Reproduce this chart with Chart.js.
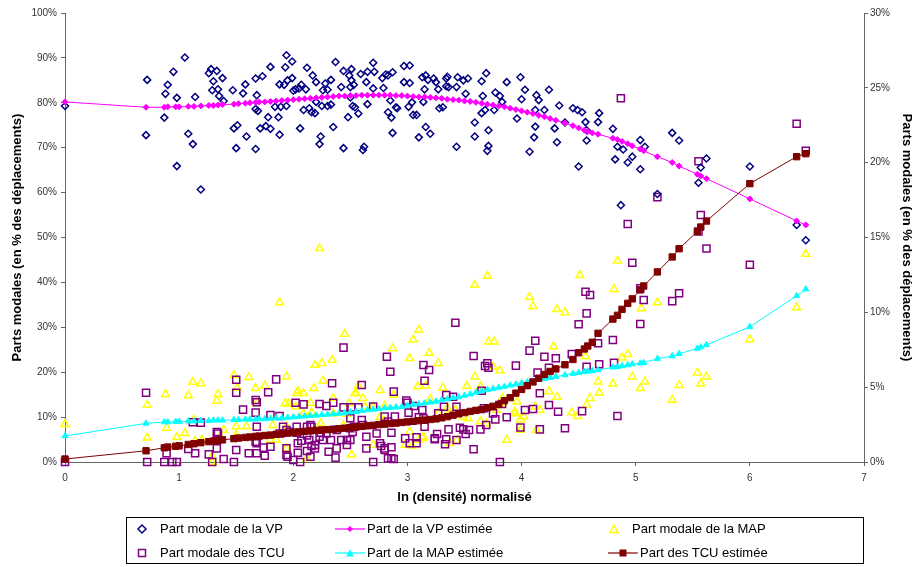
<!DOCTYPE html>
<html>
<head>
<meta charset="utf-8">
<script src="https://cdn.jsdelivr.net/npm/chart.js@4.4.1/dist/chart.umd.min.js"></script>
<style>
body{margin:0;background:#fff;font-family:"Liberation Sans",Arial,sans-serif}
#wrap{position:relative;width:914px;height:567px}
#legend{position:absolute;left:126px;top:517px;width:736px;height:45px;border:1px solid #000;font-size:13px;color:#000}
.item{position:absolute;white-space:nowrap;line-height:14px}
.item svg{position:absolute;top:1px}
</style>
</head>
<body>
<div id="wrap">
<canvas id="chart"></canvas>
<div id="legend"></div>
</div>
<script>

/* DATA */

// observed shares per commune: [ln(density) normalised, share in %]
const vpObs=[[0,79.3],[0.72,85.1],[0.71,72.8],[0.87,76.7],[0.88,82],[0.9,84],[0.95,86.9],[0.98,81.1],[0.98,65.9],[1.05,90.1],[1.08,73.1],[1.12,70.8],[1.14,81.3],[1.19,60.7],[1.26,86.6],[1.28,87.5],[1.33,87.1],[1.3,84.8],[1.29,82.8],[1.34,83],[1.35,81.5],[1.38,85.5],[1.39,80.4],[1.47,82.8],[1.48,74.3],[1.51,75],[1.5,69.9],[1.56,82.1],[1.58,84.1],[1.59,72.5],[1.67,85.4],[1.67,69.7],[1.67,78.6],[1.69,78.2],[1.68,81.7],[1.71,74.3],[1.73,85.9],[1.76,74.8],[1.78,76.8],[1.8,88],[1.8,74.2],[1.84,79.1],[1.87,76.8],[1.88,72.9],[1.88,84.1],[1.89,79.1],[1.93,87.9],[1.94,90.6],[1.95,85],[1.94,79.3],[1.92,84],[1.99,89.2],[1.99,85.5],[2,82.7],[2.02,83],[2.05,83.2],[2.06,74.3],[2.07,84],[2.09,78.4],[2.12,87.8],[2.11,83],[2.14,78.8],[2.17,86.1],[2.16,77.9],[2.19,77.7],[2.2,84.6],[2.2,80.2],[2.23,70.8],[2.24,72.5],[2.25,79.3],[2.26,82.8],[2.28,84.3],[2.3,82.9],[2.3,79.3],[2.33,79.6],[2.33,85.1],[2.35,74.6],[2.37,89.1],[2.42,83.5],[2.44,69.9],[2.44,87.1],[2.49,86.1],[2.48,76.8],[2.5,83.5],[2.5,81.2],[2.51,87.5],[2.51,85],[2.52,79.3],[2.54,79],[2.53,84],[2.57,77.6],[2.59,86.4],[2.61,69.5],[2.62,70.2],[2.64,84.6],[2.65,86.9],[2.65,79.7],[2.7,88.9],[2.71,86.9],[2.7,83.2],[2.78,85.5],[2.79,83.3],[2.81,86.3],[2.83,86.1],[2.83,77.9],[2.86,76.7],[2.87,86.8],[2.87,73.3],[2.85,80.5],[2.9,79],[2.91,78.8],[2.97,88.2],[2.97,84.6],[3.02,88.3],[3.02,84.4],[3.01,79.1],[3.04,80.1],[3.05,77.3],[3.08,77.3],[3.1,72.3],[3.13,85.7],[3.16,86.1],[3.15,83],[3.14,80.2],[3.16,74.6],[3.2,73.1],[3.18,85.1],[3.23,85.4],[3.25,84.6],[3.27,83],[3.28,78.8],[3.31,79],[3.34,85.4],[3.34,83.7],[3.35,85.8],[3.36,83.5],[3.43,70.2],[3.44,85.7],[3.43,83.5],[3.49,85],[3.53,85.4],[3.51,82],[3.59,75.6],[3.59,72.5],[3.65,84.8],[3.66,81.5],[3.65,77.7],[3.69,86.6],[3.68,78.4],[3.71,73.9],[3.71,70.4],[3.7,69.3],[3.77,82.3],[3.81,81.5],[3.76,78.4],[3.83,80.2],[3.87,84.6],[3.96,76.5],[3.99,85.7],[4,80.8],[4.03,82.9],[4.07,69.1],[4.11,72.3],[4.12,74.7],[4.13,81.7],[4.15,80.6],[4.12,78.4],[4.2,78.4],[4.24,82.9],[4.29,74.3],[4.31,71.2],[4.33,79.4],[4.38,75.6],[4.45,78.8],[4.49,78.4],[4.5,65.8],[4.53,77.9],[4.56,75.7],[4.57,73.9],[4.57,71.6],[4.67,75.7],[4.68,77.7],[4.8,74.2],[4.82,67.4],[4.84,70.2],[4.87,57.2],[4.89,69.6],[4.93,66.7],[4.97,68],[5.04,71.7],[5.04,65.2],[5.08,70.2],[5.19,59.7],[5.32,73.3],[5.38,71.6],[5.55,62.2],[5.57,65.6],[5.62,67.6],[6,65.8],[6.41,52.8],[6.49,49.4]]

const mapObs=[[0,8.4],[0.72,12.7],[0.72,5.4],[0.88,15.1],[0.89,7.6],[0.98,5.5],[1.05,6.4],[1.08,14.8],[1.12,17.8],[1.19,17.5],[1.13,9.4],[1.29,0],[1.33,13.6],[1.34,15.1],[1.48,19.3],[1.51,16.5],[1.5,7.9],[1.61,18.9],[1.67,16.4],[1.68,13.1],[1.75,17],[1.8,4.9],[1.88,35.5],[1.93,13.1],[1.94,19],[1.94,3],[2.03,15.3],[2.09,15.3],[2.12,0.8],[2.18,16.4],[2.19,21.6],[2.23,47.6],[2.25,22],[2.26,18.1],[2.34,22.7],[2.35,14.2],[2.45,28.5],[2.49,13.1],[2.51,1.6],[2.54,15.3],[2.57,16.9],[2.61,14.2],[2.7,3.8],[2.76,16],[2.8,12.5],[2.87,25.3],[2.88,14.9],[3.02,23.1],[3.05,27.2],[3.1,29.4],[3.09,16.8],[3.02,6.7],[3.04,3.6],[3.14,5.6],[3.19,24.3],[3.27,22],[3.31,16.5],[3.35,10.8],[3.43,4.7],[3.37,4.2],[3.52,16.9],[3.59,19],[3.59,39.4],[3.64,16.8],[3.7,41.4],[3.71,26.8],[3.76,26.8],[3.75,21.2],[3.81,20.4],[3.83,14.2],[3.87,4.9],[3.94,11.2],[3.96,13.4],[3.99,7.1],[4.02,10.1],[4.07,36.7],[4.1,34.7],[4.12,12.3],[4.16,11.6],[4.24,15.7],[4.28,25.7],[4.31,34],[4.31,14.5],[4.38,33.3],[4.44,11],[4.49,10.2],[4.51,41.6],[4.56,23.5],[4.57,12.7],[4.6,14.2],[4.67,17.9],[4.68,15.4],[4.8,17.4],[4.81,38.5],[4.84,44.8],[4.88,23.2],[4.93,24],[4.97,19],[5.04,16.4],[5.05,34.2],[5.08,17.9],[5.19,35.5],[5.32,13.8],[5.38,17.1],[5.54,19.9],[5.57,17.4],[5.62,19],[6,27.3],[6.41,34.4],[6.49,46.3],[3.16,17],[3.1,4.9],[4.13,7.1],[3.99,9.4],[3.49,10.1],[3.53,9.7],[3.42,11.6],[3.13,5.3],[2.98,3.8],[3.64,9],[3.69,8.6],[3.94,10.8],[3.2,14],[3.27,10.8],[3.35,12],[3.78,11.6],[3.83,13.1],[1.14,4.7],[1.29,1.3],[1.39,7.1],[1.59,7.9],[1.82,8.2],[1.85,4.9],[1.96,12.9],[2.04,15.8],[2.55,15.3],[2.15,13.1],[2.02,12.3],[2.09,10.8],[2.16,11],[2.24,8.6],[1.94,7.9],[2.35,10.8],[2.44,8.2],[2.47,10.7],[2.76,10],[2.8,9],[1.5,6],[1.36,5.6],[1.2,4.9],[2.63,12.3],[2.7,12.3]]

// TCU shares are read on the right axis (0-30%)
const tcuObs=[[0,0],[0.71,4.63],[0.72,0],[0.87,0],[0.89,0.58],[0.94,0],[0.98,0],[1.08,0.87],[1.12,2.65],[1.14,0.58],[1.19,2.63],[1.26,0.51],[1.29,0],[1.33,2],[1.33,0.91],[1.34,1.9],[1.39,0.2],[1.48,0],[1.5,5.5],[1.5,0.8],[1.56,3.5],[1.61,0.58],[1.68,3.99],[1.67,3.3],[1.68,2.36],[1.68,1.25],[1.74,0.96],[1.75,0.42],[1.78,4.66],[1.8,3.14],[1.8,1.02],[1.85,5.52],[1.88,3.07],[1.94,0.91],[1.95,0.35],[1.97,2.02],[2.02,3.96],[2,0.13],[2.04,0.62],[2.06,0],[2.09,3.85],[2.07,1.42],[2.12,0.73],[2.15,2.47],[2.16,1.07],[2.19,0.91],[2.23,3.87],[2.23,1.69],[2.26,1.47],[2.29,3.74],[2.31,0.69],[2.34,5.26],[2.35,3.96],[2.37,0.29],[2.44,7.64],[2.44,3.65],[2.47,1.47],[2.5,2.25],[2.52,2],[2.6,5.14],[2.61,2.47],[2.64,0.91],[2.7,0],[2.7,3.7],[2.73,1.91],[2.77,1.07],[2.8,0.8],[2.82,7.03],[2.85,6.03],[2.86,0.24],[2.88,4.7],[2.86,0.98],[2.89,3.03],[2.99,4.1],[2.98,1.58],[3.01,3.3],[3.02,1.25],[3.08,1.65],[3.1,2.99],[3.14,6.48],[3.15,5.43],[3.19,6.15],[3.15,2.36],[3.24,1.58],[3.26,1.87],[3.32,3.69],[3.33,1.18],[3.34,4.48],[3.36,2.18],[3.42,9.3],[3.43,3.69],[3.46,2.29],[3.49,2.18],[3.51,1.87],[3.54,2.14],[3.58,7.08],[3.58,0.85],[3.64,2.18],[3.65,4.76],[3.67,3.59],[3.68,6.41],[3.7,6.6],[3.71,6.3],[3.69,2.47],[3.75,3.25],[3.77,2.85],[3.81,0],[3.83,3.87],[3.87,2.99],[3.95,6.44],[3.99,2.31],[4.03,3.47],[4.07,7.44],[4.12,8.1],[4.1,3.54],[4.14,5.97],[4.16,4.59],[4.16,2.18],[4.2,7.03],[4.24,6.3],[4.24,3.81],[4.3,6.93],[4.32,3.36],[4.38,2.25],[4.44,7.21],[4.5,9.2],[4.53,3.4],[4.56,11.38],[4.6,11.16],[4.57,9.93],[4.57,6.37],[4.67,7.93],[4.68,6.53],[4.8,8.15],[4.81,6.63],[4.84,3.07],[4.97,13.31],[5.04,11.6],[5.04,9.22],[5.07,10.82],[5.32,10.75],[5.38,11.27],[5.62,14.27],[6,13.18],[4.87,24.3],[5.55,20.1],[4.93,15.9],[5.19,17.7],[5.57,16.5],[5.55,15.4],[6.41,22.6],[6.49,20.8],[1.33,1.47],[1.5,4.63],[1.67,4.14],[1.67,1.36],[1.91,2.36],[1.68,0.58],[2.03,1.96],[2.04,1.25],[2.12,1.78],[2.14,1.47],[2.15,0.35],[2.24,1.96],[2.19,1.14],[2.29,1.91],[2.33,1.47],[2.38,0.91],[2.51,3.65],[2.57,3.65],[2.5,2.92],[2.6,2.8],[2.53,2.36],[2.5,1.47],[2.47,1.14],[2.64,1.69],[2.83,2.7],[2.03,2.36],[1.94,2.14],[1.88,1.91],[2.12,2.36],[2.16,2.36],[2.38,2.14],[2.42,1.47],[1.94,0.47],[3.34,1.52],[3.24,1.52],[3.27,3.25],[3.14,2.92],[3.13,3.47],[3,3.96],[3.06,3.74],[2.8,3.03],[2.86,1.96],[3.08,1.25],[2.76,1.25],[2.8,0.91],[2.83,0.24],[2.88,0.2],[3.43,1.47],[3.4,4.36]]

// estimated curves, one marker per commune
const estX=[0,0.71,0.87,0.9,0.97,1,1.08,1.13,1.19,1.26,1.3,1.34,1.38,1.48,1.52,1.58,1.62,1.67,1.7,1.75,1.8,1.85,1.9,1.95,2,2.05,2.1,2.15,2.2,2.25,2.3,2.35,2.4,2.45,2.5,2.55,2.6,2.65,2.7,2.75,2.8,2.85,2.9,2.95,3,3.05,3.1,3.15,3.2,3.25,3.3,3.35,3.4,3.45,3.5,3.55,3.6,3.65,3.7,3.75,3.8,3.85,3.9,3.95,4,4.05,4.1,4.15,4.2,4.25,4.3,4.38,4.45,4.5,4.55,4.58,4.62,4.67,4.8,4.84,4.88,4.93,4.97,5.04,5.07,5.19,5.32,5.38,5.54,5.57,5.62,6,6.41,6.49]

const vpEst=[80.2,79,79,79.1,79.1,79.1,79.2,79.2,79.3,79.4,79.4,79.5,79.6,79.7,79.8,79.9,80,80.1,80.2,80.2,80.3,80.4,80.5,80.6,80.7,80.8,80.9,81,81.1,81.2,81.3,81.4,81.5,81.5,81.6,81.6,81.7,81.7,81.7,81.7,81.7,81.7,81.6,81.6,81.5,81.4,81.3,81.3,81.2,81.1,81,80.8,80.7,80.6,80.4,80.3,80.1,79.9,79.7,79.5,79.3,79.1,78.8,78.5,78.2,77.9,77.6,77.2,76.9,76.5,76.1,75.5,74.9,74.4,73.9,73.6,73.3,73,72.1,71.8,71.4,70.9,70.4,69.7,69.3,68,66.7,65.9,64.1,63.7,63.1,58.6,53.7,52.8]

const mapEst=[5.8,8.6,8.9,8.9,9,9,9.1,9.1,9.2,9.2,9.3,9.3,9.3,9.4,9.4,9.5,9.5,9.5,9.6,9.6,9.7,9.8,9.8,9.9,10,10.1,10.2,10.3,10.4,10.5,10.6,10.7,10.8,10.9,11.1,11.2,11.4,11.6,11.7,11.8,12,12.1,12.2,12.3,12.6,12.8,12.9,13.1,13.3,13.5,13.8,14,14.3,14.5,14.8,15.1,15.5,15.8,16.1,16.3,16.6,16.8,17.1,17.3,17.6,17.8,18,18.3,18.5,18.8,19,19.4,19.7,19.9,20.1,20.2,20.3,20.5,21.1,21.2,21.4,21.6,21.8,22,22.1,23,23.6,24.1,25.3,25.6,26.1,30.1,37,38.5]

const tcuEst=[0.2,0.75,0.95,1,1.05,1.08,1.17,1.22,1.29,1.36,1.4,1.44,1.48,1.56,1.6,1.64,1.67,1.71,1.73,1.77,1.8,1.85,1.89,1.93,1.97,2.01,2.05,2.08,2.11,2.14,2.16,2.19,2.22,2.26,2.3,2.34,2.38,2.42,2.45,2.5,2.53,2.57,2.6,2.64,2.68,2.72,2.76,2.8,2.84,2.88,2.95,3.03,3.13,3.22,3.3,3.38,3.45,3.5,3.62,3.72,3.85,4.1,4.3,4.6,4.85,5.1,5.35,5.6,5.85,6.05,6.22,6.5,6.85,7.3,7.55,7.75,8,8.6,9.55,9.8,10.2,10.6,10.9,11.5,11.76,12.7,13.7,14.25,15.4,15.7,16.1,18.6,20.4,20.6]

const leftTicks=[0,10,20,30,40,50,60,70,80,90,100]
const rightTicks=[0,5,10,15,20,25,30]


/* CHART */

Chart.defaults.font.family='"Liberation Sans", Arial, sans-serif'
Chart.defaults.font.size=10
Chart.defaults.color='#333'

const pts=a=>a.map(p=>({x:p[0],y:p[1]}))
const est=a=>estX.map((x,i)=>({x:x,y:a[i]}))

const axisGrid={drawOnChartArea:false,drawTicks:true,tickLength:4,color:'#666',lineWidth:1}
const axisBorder={color:'#666',width:1}
const titleFont={size:13,weight:"bold"}

new Chart(document.getElementById("chart"),{

type:"scatter",

data:{
datasets:[

{
label:"Part modale de la VP",
data:pts(vpObs),
yAxisID:"y",
pointStyle:"rectRot",
pointRadius:3.5,
borderColor:"#000080",
backgroundColor:"rgba(0,0,0,0)",
borderWidth:1.5,
order:2,
clip:8
},

{
label:"Part de la VP estimée",
data:est(vpEst),
yAxisID:"y",
showLine:true,
pointStyle:"rectRot",
pointRadius:3,
borderColor:"#FF00FF",
backgroundColor:"#FF00FF",
pointBorderWidth:1,
borderWidth:1,
order:1,
clip:8
},

{
label:"Part modale de la MAP",
data:pts(mapObs),
yAxisID:"y",
pointStyle:"triangle",
pointRadius:4.5,
borderColor:"#FFFF00",
backgroundColor:"rgba(0,0,0,0)",
borderWidth:1.5,
order:4,
clip:8
},

{
label:"Part modale des TCU",
data:pts(tcuObs),
yAxisID:"y2",
pointStyle:"rect",
pointRadius:5,
borderColor:"#800080",
backgroundColor:"rgba(0,0,0,0)",
borderWidth:1.5,
order:3,
clip:8
},

{
label:"Part de la MAP estimée",
data:est(mapEst),
yAxisID:"y",
showLine:true,
pointStyle:"triangle",
pointRadius:3.5,
borderColor:"#00FFFF",
backgroundColor:"#00FFFF",
borderWidth:1,
order:1,
clip:8
},

{
label:"Part des TCU estimée",
data:est(tcuEst),
yAxisID:"y2",
showLine:true,
pointStyle:"rect",
pointRadius:4.5,
borderColor:"#800000",
backgroundColor:"#800000",
borderWidth:1,
order:0,
clip:8
}

]
},

options:{
responsive:true,
maintainAspectRatio:false,
animation:false,
layout:{padding:{top:13,bottom:55,left:0,right:0}},
plugins:{
legend:{display:false},
tooltip:{enabled:false}
},
scales:{
x:{
type:"linear",
min:0,max:7,
afterFit:s=>{s.height=50},
ticks:{stepSize:1,padding:6,color:"#333"},
grid:axisGrid,
border:axisBorder,
title:{display:true,text:"ln (densité) normalisé",color:"#000",font:titleFont,padding:{top:0,bottom:7}}
},
y:{
position:"left",
min:0,max:100,
afterFit:s=>{s.width=65},
afterBuildTicks:s=>{s.ticks=leftTicks.map(v=>({value:v}))},
ticks:{padding:4,color:"#333",callback:v=>v+"%"},
grid:axisGrid,
border:axisBorder,
title:{display:true,text:"Parts modales (en % des déplacements)",color:"#000",font:titleFont,padding:{top:10,bottom:0}}
},
y2:{
position:"right",
min:0,max:30,
afterFit:s=>{s.width=50},
afterBuildTicks:s=>{s.ticks=rightTicks.map(v=>({value:v}))},
ticks:{padding:2,color:"#333",callback:v=>v+"%"},
grid:axisGrid,
border:axisBorder,
title:{display:true,text:"Parts modales (en % des déplacements)",color:"#000",font:titleFont,padding:{top:0,bottom:0}}
}
}
}

})


/* LEGEND */

const legendItems=[
{text:"Part modale de la VP",col:0,row:0,mark:'<path d="M6 2 L10 6 L6 10 L2 6 Z" fill="none" stroke="#000080" stroke-width="1.5"/>'},
{text:"Part de la VP estimée",col:1,row:0,line:"#FF00FF",mark:'<path d="M15 3 L18 6 L15 9 L12 6 Z" fill="#FF00FF"/>'},
{text:"Part modale de la MAP",col:2,row:0,mark:'<path d="M6 2 L10 9.5 L2 9.5 Z" fill="none" stroke="#FFFF00" stroke-width="1.5"/>'},
{text:"Part modale des TCU",col:0,row:1,mark:'<rect x="2.5" y="2.5" width="7" height="7" fill="none" stroke="#800080" stroke-width="1.5"/>'},
{text:"Part de la MAP estimée",col:1,row:1,line:"#00FFFF",mark:'<path d="M15 2.5 L19 9.5 L11 9.5 Z" fill="#00FFFF"/>'},
{text:"Part des TCU estimée",col:2,row:1,line:"#800000",mark:'<rect x="11.5" y="2.5" width="7" height="7" fill="#800000"/>'}
]

const colX=[9,208,481]
const legend=document.getElementById("legend")

legendItems.forEach(it=>{

let d=document.createElement("div")
d.className="item"
d.style.left=colX[it.col]+"px"
d.style.top=(it.row==0?4:28)+"px"

let w=it.line?30:12
let svg='<svg width="'+w+'" height="12" style="left:0">'
if(it.line) svg+='<line x1="0" y1="6" x2="30" y2="6" stroke="'+it.line+'" stroke-width="1.2"/>'
svg+=it.mark+'</svg>'

d.innerHTML=svg+'<span style="position:relative;left:'+(it.line?32:24)+'px">'+it.text+'</span>'
legend.appendChild(d)

})

</script>
</body>
</html>
